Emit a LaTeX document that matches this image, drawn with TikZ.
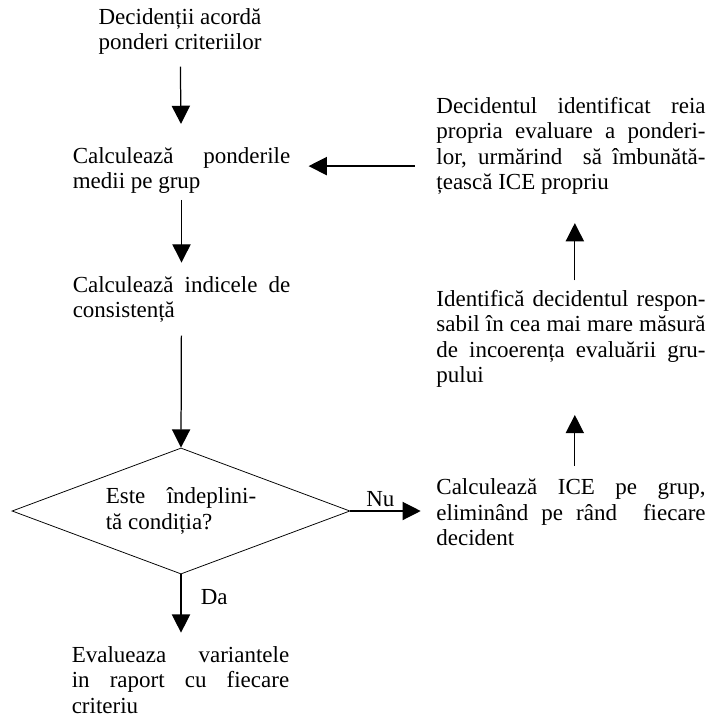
\documentclass[tikz,border=0pt]{standalone}
\usepackage{fontspec}
\setmainfont{Liberation Serif}
\usetikzlibrary{arrows.meta,positioning,shapes.geometric}
\tolerance=9999
\hyphenpenalty=10000
\tikzset{
  ctext/.style={align=center, inner sep=0pt, font=\fontsize{12pt}{13.3pt}\selectfont},
  jtext/.style={align=justify, text width=#1, inner sep=0pt, font=\fontsize{12pt}{13.3pt}\selectfont},
  decision/.style={draw, diamond, aspect=2.68, line width=0.4pt, inner sep=0pt,
        minimum width=176.4pt, minimum height=65.8pt, align=justify, text width=78.5pt,
        font=\fontsize{12pt}{13.3pt}\selectfont},
  flow/.style={-{Triangle[length=9.5pt, width=9.5pt]}, line width=0.65pt},
  elab/.style={inner sep=0pt, font=\fontsize{12pt}{13.3pt}\selectfont},
}
\begin{document}
\begin{tikzpicture}[x=0.522pt, y=-0.522pt]
  \useasboundingbox (0,0) rectangle (715,717);
  % --- main column ---
  \node[ctext] (start) at (180,31.5) {Decidenții acordă\\ponderi criteriilor};
  \node[jtext=113.5pt] (avg) at (181.5,170.5) {Calculează ponderile\linebreak medii pe grup};
  \node[jtext=113.5pt] (cons) at (181.5,299.5) {Calculează indicele de\linebreak consistență};
  \node[decision] (cond) at (181,511) {Este îndeplini-\linebreak tă condiția?};
  \node[jtext=113.5pt] (eval) at (180.5,680) {Evalueaza variantele\linebreak in raport cu fiecare\linebreak criteriu};
  % --- feedback column ---
  \node[jtext=140.5pt] (redo) at (571,146)
       {Decidentul identificat reia\linebreak propria evaluare a ponderi-\linebreak lor, urmărind\ \ să îmbunătă-\linebreak țească ICE propriu};
  \node[jtext=140.5pt] (find) at (571,339)
       {Identifică decidentul respon-\linebreak sabil în cea mai mare măsură\linebreak de incoerența evaluării gru-\linebreak pului};
  \node[jtext=140.5pt] (ice) at (571,512.5)
       {Calculează ICE pe grup,\linebreak eliminând pe rând\ \ fiecare\linebreak decident};
  % arrows
  \draw[flow, shorten <=6pt, shorten >=12pt] (start) -- (avg);
  \draw[flow, shorten <=3pt, shorten >=7pt] (avg) -- (cons);
  \draw[flow, shorten <=6.5pt] (cons) -- (cond.north);
  \draw[flow, shorten >=7pt] (cond.south) -- (cond.south |- eval.north) node[elab, pos=0.32, right=10pt] {Da};
  \draw[flow, shorten >=8pt] (cond.east) -- (ice.west |- cond.east) node[elab, pos=0.35, above=2pt] {Nu};
  \draw[flow, shorten <=6.8pt, shorten >=14pt] ([xshift=2pt]ice.north) -- ([xshift=2pt]find.south);
  \draw[flow, shorten <=5pt, shorten >=14.6pt] ([xshift=2pt]find.north) -- ([xshift=2pt]redo.south);
  \draw[flow, shorten <=11pt, shorten >=9.4pt] ([yshift=2.3pt]redo.west |- avg.east) -- ([yshift=2.3pt]avg.east);
\end{tikzpicture}
\end{document}
